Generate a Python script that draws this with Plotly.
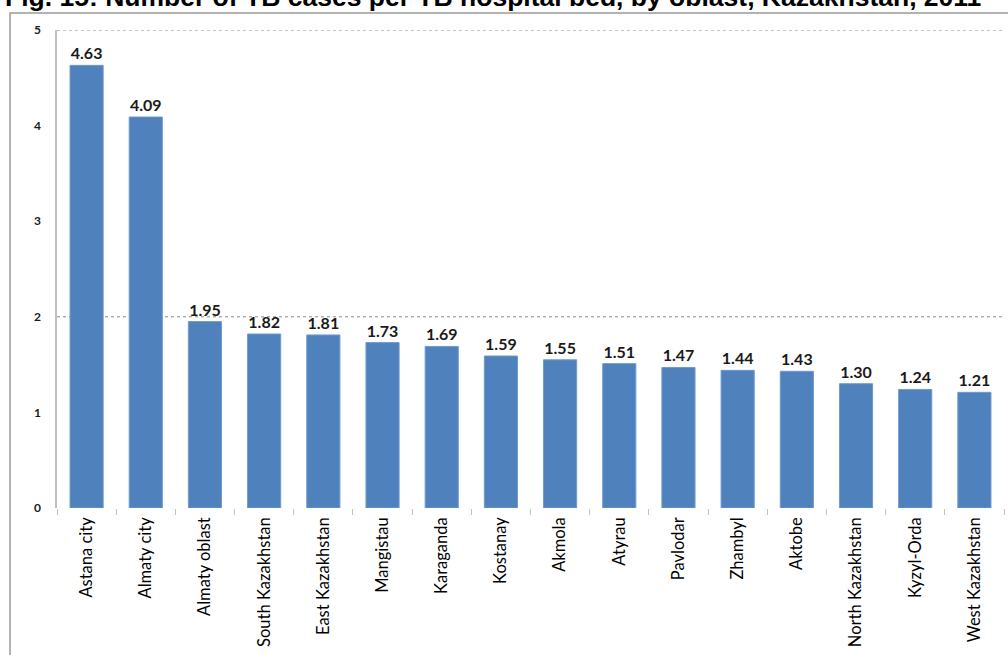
import plotly.graph_objects as go

# Number of TB cases per TB hospital bed, by oblast (2011)
oblasts = [
    "Astana city", "Almaty city", "Almaty oblast", "South Kazakhstan",
    "East Kazakhstan", "Mangistau", "Karaganda", "Kostanay", "Akmola",
    "Atyrau", "Pavlodar", "Zhambyl", "Aktobe", "North Kazakhstan",
    "Kyzyl-Orda", "West Kazakhstan",
]
cases_per_bed = [4.63, 4.09, 1.95, 1.82, 1.81, 1.73, 1.69, 1.59, 1.55,
                 1.51, 1.47, 1.44, 1.43, 1.30, 1.24, 1.21]
y_ticks = [0, 1, 2, 3, 4, 5]
grid_levels = [2, 5]
title_text = "Fig. 15: Number of TB cases per TB hospital bed, by oblast, Kazakhstan, 2011"

fig = go.Figure(
    go.Bar(
        x=oblasts,
        y=cases_per_bed,
        text=[f"{v:.2f}" for v in cases_per_bed],
        textposition="outside",
        textfont=dict(family="Lato", size=16, color="#1a1a1a", weight="bold"),
        cliponaxis=False,
        marker=dict(color="#4F81BD", line=dict(color="#6F9AD0", width=1)),
    )
)

shapes = [
    dict(type="line", xref="paper", yref="y", x0=0, x1=1, y0=g, y1=g,
         line=dict(color="#8c8c8c", width=1, dash="dot"), layer="below")
    for g in grid_levels
]
# outer frame around the chart
shapes.append(dict(type="rect", xref="paper", yref="paper",
                   x0=-0.0496, x1=1.02, y0=-0.5, y1=1.0356,
                   line=dict(color="#9a9a9a", width=1.5)))

fig.update_layout(
    width=1008,
    height=655,
    margin=dict(l=57, r=4, t=30, b=147),
    paper_bgcolor="white",
    plot_bgcolor="white",
    bargap=0.44,
    showlegend=False,
    shapes=shapes,
    annotations=[dict(
        text=title_text, xref="paper", yref="paper", x=0.4604, y=1.069,
        xanchor="center", yanchor="middle", showarrow=False,
        font=dict(family="Liberation Sans", size=26.5, color="black", weight="bold"),
    )],
    xaxis=dict(
        type="category",
        automargin=False,
        tickangle=-90,
        ticks="outside",
        tickson="boundaries",
        ticklen=6,
        tickcolor="#c0c0c0",
        showline=False,
        showgrid=False,
        ticklabelstandoff=5,
        tickfont=dict(family="Lato", size=16.5, color="black"),
    ),
    yaxis=dict(
        range=[0, 5],
        automargin=False,
        tickvals=y_ticks,
        showgrid=False,
        zeroline=False,
        showline=True,
        linecolor="#bfbfbf",
        linewidth=1.5,
        ticks="",
        ticklabelstandoff=12,
        tickfont=dict(family="Lato", size=12, color="#1a1a1a", weight="bold"),
    ),
)

fig.write_html("out.html")
